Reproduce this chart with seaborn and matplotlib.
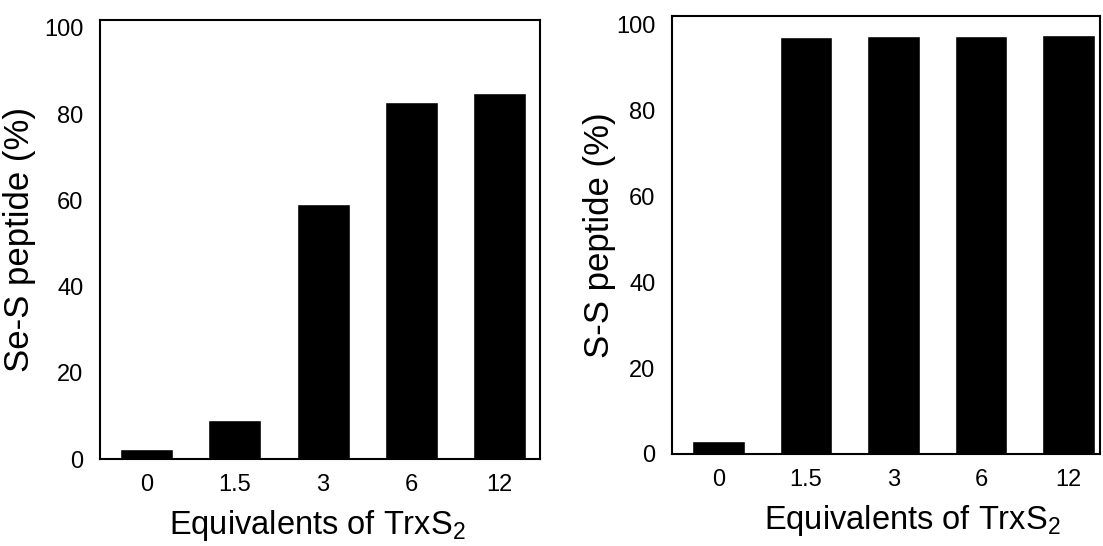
import pandas as pd
import numpy as np
import matplotlib
matplotlib.use('Agg')
import matplotlib.pyplot as plt
import seaborn as sns

equivalents = ['0', '1.5', '3', '6', '12']
se_s_peptide = [2.4, 9.1, 59.2, 82.7, 84.9]
s_s_peptide = [3.0, 97.3, 97.4, 97.4, 97.6]
y_ticks = [0, 20, 40, 60, 80, 100]

sns.set_style('white')
plt.rcParams['font.family'] = ['Liberation Sans', 'DejaVu Sans']
plt.rcParams['mathtext.fontset'] = 'custom'
plt.rcParams['mathtext.rm'] = 'Liberation Sans'
plt.rcParams['mathtext.it'] = 'Liberation Sans'
plt.rcParams['text.color'] = 'black'
plt.rcParams['axes.labelcolor'] = 'black'
plt.rcParams['xtick.color'] = 'black'
plt.rcParams['ytick.color'] = 'black'

fig = plt.figure(figsize=(11.03, 5.46), dpi=100)
ax1 = fig.add_axes([0.0907, 0.1593, 0.3989, 0.8041])
ax2 = fig.add_axes([0.6093, 0.1685, 0.3880, 0.8031])

df1 = pd.DataFrame({'eq': equivalents, 'val': se_s_peptide})
df2 = pd.DataFrame({'eq': equivalents, 'val': s_s_peptide})

sns.barplot(data=df1, x='eq', y='val', color='black', width=0.6, ax=ax1, saturation=1)
sns.barplot(data=df2, x='eq', y='val', color='black', width=0.6, ax=ax2, saturation=1)

panels = [(ax1, 'Se-S peptide (%)', (-0.53, 4.46), 101.8, (-0.145, 0.5), (0.493, -0.112)),
          (ax2, 'S-S peptide (%)', (-0.53, 4.36), 102.2, (-0.132, 0.5), (0.561, -0.112))]
for ax, lab, xl, yt, ylc, xlc in panels:
    ax.set_xlim(xl)
    ax.set_ylim(0, yt)
    ax.set_yticks(y_ticks)
    ax.set_ylabel(lab, fontsize=25)
    ax.set_xlabel('Equivalents of TrxS$_2$', fontsize=23.5)
    ax.yaxis.set_label_coords(*ylc)
    ax.xaxis.set_label_coords(*xlc)
    ax.tick_params(axis='y', direction='in', length=3, width=1, pad=12, labelsize=17)
    ax.tick_params(axis='x', length=0, pad=11, labelsize=17)
    for s in ax.spines.values():
        s.set_visible(True)
        s.set_color('black')
        s.set_linewidth(1.5)

fig.savefig('out.png', dpi=100)
